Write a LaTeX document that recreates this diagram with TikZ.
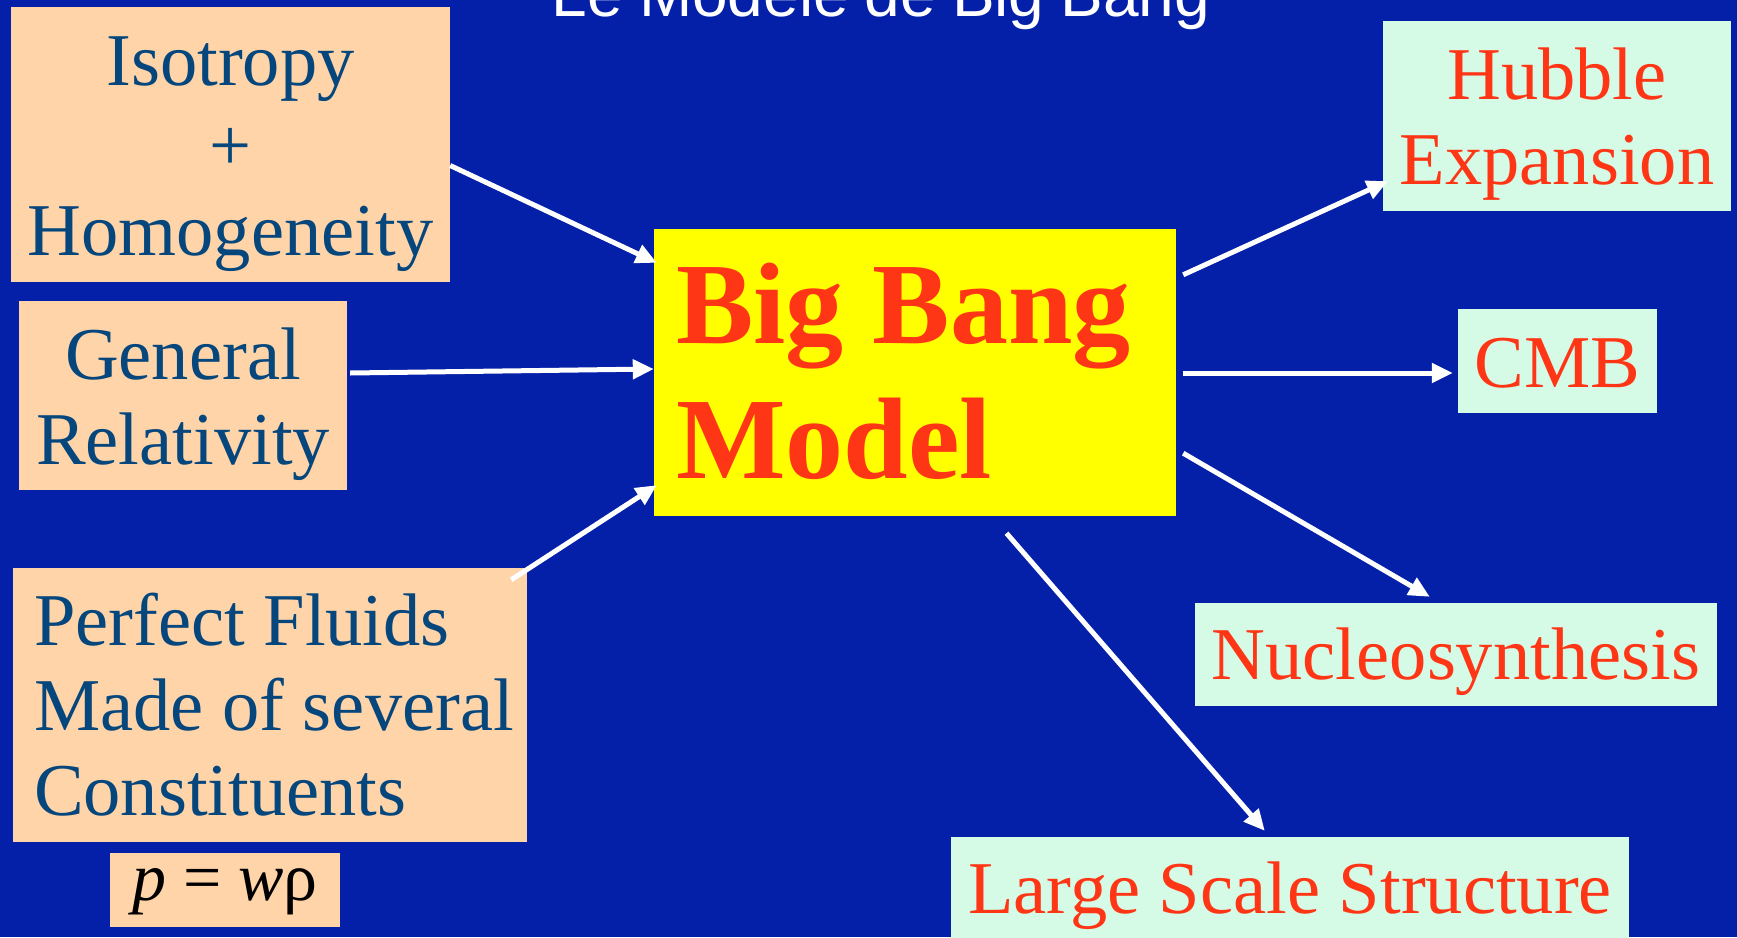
\documentclass[tikz,border=0pt]{standalone}
\usepackage{fontspec}
\setmainfont{Liberation Serif}
\newfontfamily\headfont{Liberation Sans}
\usepackage{tikz}
\usetikzlibrary{arrows.meta, calc}
\definecolor{cBG}{HTML}{0420A8}
\definecolor{cPeach}{HTML}{FFD4A8}
\definecolor{cInk}{HTML}{05467D}
\definecolor{cMint}{HTML}{D5FAE6}
\definecolor{cRed}{HTML}{FF3616}
\definecolor{cYellow}{HTML}{FFFF00}

\begin{document}
\begin{tikzpicture}[x=1pt, y=-1pt,
  every node/.style={execute at begin node={\spaceskip=0.25em\relax}},
  inbox/.style={fill=cPeach, text=cInk, inner sep=0pt, font=\fontsize{74.5}{85}\selectfont},
  outbox/.style={fill=cMint, text=cRed, inner sep=0pt, align=center, font=\fontsize{74.5}{85}\selectfont},
  flow/.style={draw=white, line width=5pt, -{Triangle[length=21pt, width=19pt]}},
]
\useasboundingbox (0,0) rectangle (1737,937);
\fill[cBG] (0,0) rectangle (1737,937);
\node[text=white, font=\headfont\fontsize{64}{70}\selectfont, anchor=base] (title) at (881,16) {Le Modèle de Big Bang};
% ingredients
\node[inbox, align=center, text width=439pt, minimum height=275pt, text height=50pt, text depth=169pt] (iso) at (230.5,144.5) {Isotropy\\+\\Homogeneity};
\node[inbox, align=center, text width=328pt, minimum height=189pt, text height=50pt, text depth=83pt] (gr) at (183,395.5) {General\\Relativity};
\node[inbox, align=left, inner xsep=21pt, text width=472pt, minimum height=274pt, text height=50pt, text depth=170pt] (pf) at (270,705) {\mbox{Perfect Fluids}\\\mbox{Made of several}\\\mbox{Constituents}};
\node[fill=cPeach, inner sep=0pt, minimum width=230pt, minimum height=74pt, text height=35pt, text depth=15pt, font=\fontsize{68}{80}\selectfont] (eos) at (225,890) {\textit{p} = \textit{w}ρ};
% model
\node[fill=cYellow, text=cRed, inner sep=0pt, inner xsep=22pt, text width=478pt, align=left, minimum height=287pt, text height=80pt, text depth=139pt, font=\bfseries\fontsize{116}{135}\selectfont] (bbm) at (915,372.5) {Big Bang\\Model};
% predictions
\node[outbox, text width=348pt, minimum height=190pt, text height=50pt, text depth=84pt] (hub) at (1557,116) {Hubble\\Expansion};
\node[outbox, text width=199pt, minimum height=104pt, text height=52pt, text depth=0pt] (cmb) at (1557.5,361) {CMB};
\node[outbox, text width=522pt, minimum height=103pt, text height=51pt, text depth=2pt] (nuc) at (1456,654.5) {Nucleosynthesis};
\node[outbox, text width=678pt, minimum height=118pt, text height=50pt, text depth=16pt] (lss) at (1290,896) {Large Scale Structure};
% arrows
\draw[flow] ($(iso.east)+(0,21)$) -- ($(bbm.north west)+(3,34)$);
\draw[flow] ($(gr.east)+(3,-22.5)$) -- ($(bbm.west)+(0,-3.5)$);
\draw[flow] ($(pf.north east)+(-16,12)$) -- ($(bbm.south west)+(3,-31)$);
\draw[flow] ($(bbm.north east)+(7,46)$) -- ($(hub.south west)+(5,-30)$);
\draw[flow] ($(bbm.east)+(7,0.5)$) -- ($(cmb.west)+(-5,12)$);
\draw[flow] ($(bbm.south east)+(7,-63)$) -- ($(nuc.north west)+(235,-6)$);
\draw[flow] ($(bbm.south)+(91.5,17)$) -- ($(lss.north west)+(314,-6)$);
\end{tikzpicture}
\end{document}
